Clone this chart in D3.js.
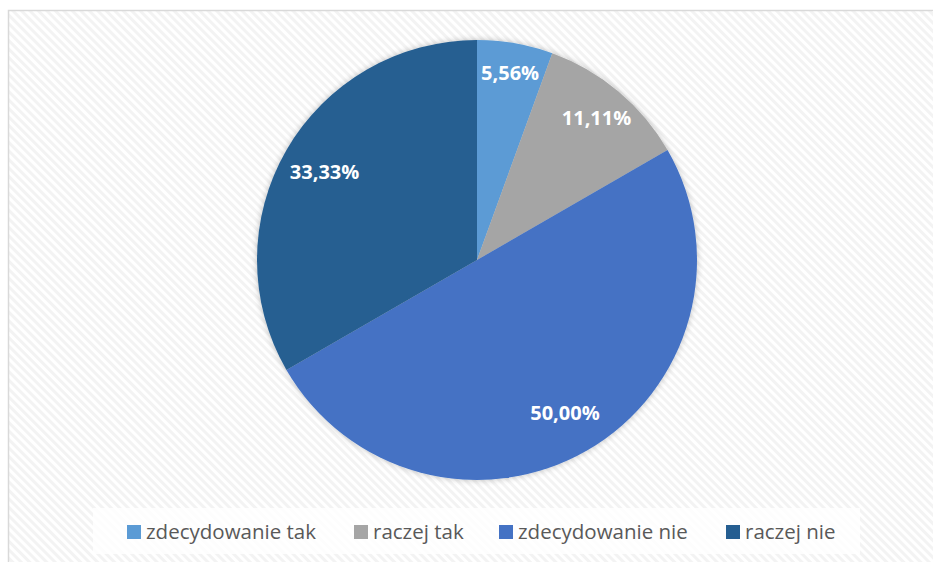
<!DOCTYPE html>
<html>
<head>
<meta charset="utf-8">
<script src="https://cdn.jsdelivr.net/npm/d3@7"></script>
<style>
html, body { margin: 0; padding: 0; background: #ffffff; }
svg { display: block; }
</style>
</head>
<body>
<svg id="chart" width="933" height="562"></svg>
<script>
const categories = ["zdecydowanie tak", "raczej tak", "zdecydowanie nie", "raczej nie"];
const values = [5.56, 11.11, 50.00, 33.33];
const labels = ["5,56%", "11,11%", "50,00%", "33,33%"];
const colors = ["#5B9BD5", "#A5A5A5", "#4472C4", "#255E91"];

const W = 933, H = 562;
const svg = d3.select("#chart");

// hatch pattern
const defs = svg.append("defs");
const pat = defs.append("pattern")
  .attr("id", "hatch")
  .attr("patternUnits", "userSpaceOnUse")
  .attr("width", 6).attr("height", 6)
  .attr("patternTransform", "rotate(-45)");
pat.append("rect").attr("width", 6).attr("height", 6).attr("fill", "#ffffff");
pat.append("rect").attr("width", 3).attr("height", 6).attr("fill", "#f3f3f3");

const shadow = defs.append("filter").attr("id", "shadow")
  .attr("x", "-10%").attr("y", "-10%").attr("width", "120%").attr("height", "120%");
shadow.append("feGaussianBlur").attr("in", "SourceAlpha").attr("stdDeviation", 3).attr("result", "blur");
shadow.append("feComponentTransfer").attr("in", "blur").attr("result", "faded")
  .append("feFuncA").attr("type", "linear").attr("slope", 0.25);
const merge = shadow.append("feMerge");
merge.append("feMergeNode").attr("in", "faded");
merge.append("feMergeNode").attr("in", "SourceGraphic");

// chart area with border
svg.append("rect")
  .attr("x", 8.5).attr("y", 10.5)
  .attr("width", W + 20).attr("height", H + 20)
  .attr("fill", "url(#hatch)")
  .attr("stroke", "#d9d9d9").attr("stroke-width", 1.5);

// pie
const cx = 477, cy = 260, R = 220;
const pie = d3.pie().sort(null).value(d => d)(values);
const arc = d3.arc().innerRadius(0).outerRadius(R);
const g = svg.append("g").attr("transform", `translate(${cx},${cy})`);
g.append("g").attr("filter", "url(#shadow)")
  .selectAll("path.slice")
  .data(pie)
  .join("path")
  .attr("class", "slice")
  .attr("d", arc)
  .attr("fill", (d, i) => colors[i]);

const total = d3.sum(values);
g.selectAll("text.lbl")
  .data(pie)
  .join("text")
  .attr("class", "lbl")
  .attr("transform", d => {
    const frac = d.value / total;
    const rr = frac < 0.08 ? R * 0.865 : (frac < 0.2 ? R * 0.845 : R * 0.8);
    const a = (d.startAngle + d.endAngle) / 2;
    return `translate(${rr * Math.sin(a)},${-rr * Math.cos(a)})`;
  })
  .attr("text-anchor", "middle")
  .attr("dy", "0.36em")
  .attr("fill", "#ffffff")
  .attr("font-family", "'Open Sans', sans-serif")
  .attr("font-weight", "bold")
  .attr("font-size", 20)
  .text((d, i) => labels[i]);

// legend
const legend = svg.append("g");
legend.append("rect")
  .attr("x", 93).attr("y", 508)
  .attr("width", 767).attr("height", 46)
  .attr("fill", "#ffffff").attr("fill-opacity", 0.8);

const legendX = [127, 354, 499, 726];
const items = legend.selectAll("g.item")
  .data(categories)
  .join("g")
  .attr("class", "item")
  .attr("transform", (d, i) => `translate(${legendX[i]},525)`);
items.append("rect")
  .attr("width", 14).attr("height", 14)
  .attr("fill", (d, i) => colors[i]);
items.append("text")
  .attr("x", 19).attr("y", 14)
  .attr("fill", "#595959")
  .attr("font-family", "'Open Sans', sans-serif")
  .attr("font-size", 20.5)
  .text(d => d);
</script>
</body>
</html>
